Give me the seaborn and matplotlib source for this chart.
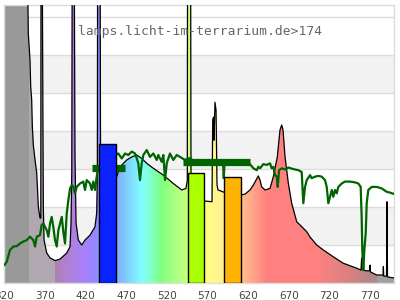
import numpy as np
import matplotlib
matplotlib.use("Agg")
import matplotlib.pyplot as plt
import seaborn as sns
from matplotlib.colors import to_rgb
from matplotlib.patches import Polygon

# ---- data ----
lamp_nm = [320, 347.5, 349.4, 351.5, 352.4, 353.6, 354.4, 355.6, 357.7, 359.8, 361.8, 363.8, 364.8,
           365.1, 366.3, 367.9, 368.8, 372.1, 376.2, 382.3, 388.5, 396.7, 400.8, 402.0, 402.9,
           403.6, 405.7, 406.9, 408.2, 411.0, 415.2, 419.2, 425.4, 431.5, 433.6, 434.4,
           434.8, 437.7, 438.3, 443.8, 450.0, 458.2, 462.3, 470.6, 476.7, 482.9, 489.0, 495.2,
           503.3, 515.6, 527.9, 538.3, 543.5, 545.1, 545.5, 549.1, 549.7, 557.1, 565.7, 575.5,
           576.4, 577.4, 578.0, 579.2, 580.5, 581.7, 582.9, 590.3, 600.2, 610.9, 616.2, 622.3,
           626.4, 629.7, 632.5, 634.6, 636.7, 640.8, 646.9, 651.0, 655.9, 659.2, 661.3, 662.9,
           665.4, 669.5, 673.6, 679.8, 683.8, 687.9, 692.1, 696.2, 704.4, 712.5, 724.8, 737.1,
           753.6, 758.9, 759.7, 760.8, 765.9, 769.4, 770.0, 770.6, 778.3, 786.0, 786.4, 786.9,
           790.3, 790.9, 791.5, 800]
lamp_val = [100, 100, 65.8, 58.7, 51.6, 48.2, 41.1, 36.3, 32.4, 28.9, 20.0, 17.1, 17.1,
            100, 100, 20.1, 11.3, 7.9, 6.6, 5.9, 6.3, 7.9, 9.6, 15.8, 28.9,
            100, 100, 33.2, 15.8, 11.3, 10.0, 11.3, 12.6, 14.8, 18.4, 28.9,
            100, 100, 35.0, 28.4, 27.6, 28.0, 30.6, 32.4, 33.2, 33.7, 32.8, 31.5,
            30.2, 28.4, 26.2, 24.5, 24.9, 27.1, 100, 100, 24.5, 22.9, 21.6, 21.4,
            42.9, 43.7, 37.6, 47.6, 45.5, 25.8, 24.5, 23.9, 23.7, 23.2, 23.4, 24.5,
            25.8, 27.1, 28.2, 27.1, 25.3, 24.5, 24.9, 28.0, 33.2, 40.3, 41.6, 40.3,
            33.2, 26.2, 21.0, 16.1, 15.3, 14.4, 13.5, 12.1, 10.0, 8.7, 6.9, 5.2,
            3.9, 3.4, 6.6, 3.4, 3.2, 3.2, 4.7, 2.9, 2.1, 2.1, 4.3, 1.8,
            1.8, 21.4, 1.6, 1.3]

sun_nm = [320, 322.9, 326.9, 331.0, 335.2, 339.2, 343.3, 347.5, 351.5, 355.6, 357.7, 359.8, 363.8,
          365.9, 367.9, 372.1, 374.1, 376.2, 378.2, 380.2, 382.3, 384.4, 386.4, 388.5, 390.6,
          392.5, 394.6, 396.7, 398.7, 400.8, 402.9, 404.8, 406.9, 409.0, 413.1, 417.1, 419.2,
          421.3, 425.4, 427.5, 429.4, 431.5, 433.6, 435.6, 443.8, 450.0, 460.2, 464.4, 468.5,
          472.5, 476.7, 480.8, 482.9, 484.8, 486.9, 489.0, 491.0, 495.2, 499.2, 503.3, 507.5,
          509.4, 513.6, 515.6, 517.7, 519.8, 523.8, 527.9, 532.1, 536.2, 542.3, 548.5, 554.6,
          560.8, 566.9, 573.1, 579.2, 585.4, 589.1, 590.0, 590.9, 597.7, 610.0, 622.3, 626.4,
          630.6, 632.5, 634.6, 638.7, 642.8, 646.9, 649.0, 651.0, 653.1, 655.2, 656.4, 658.0,
          661.3, 665.4, 669.5, 675.6, 681.8, 683.8, 685.9, 687.1, 687.9, 690.0, 692.1, 696.2,
          698.2, 702.3, 706.4, 710.6, 714.6, 716.7, 718.7, 720.8, 722.9, 724.8, 726.9, 729.0,
          731.0, 735.2, 739.2, 745.4, 751.5, 755.6, 758.5, 759.7, 760.5, 761.7, 763.0, 764.7,
          765.9, 767.9, 772.1, 778.3, 784.4, 790.6, 794.6, 800]
sun_val = [4.7, 5.6, 8.7, 9.6, 9.7, 10.4, 10.9, 11.3, 12.2, 11.3, 9.6, 12.2, 12.6,
           15.3, 15.7, 13.9, 12.2, 15.7, 17.4, 14.8, 11.3, 9.6, 13.9, 15.7, 17.4,
           13.5, 10.4, 18.3, 21.8, 24.9, 25.8, 25.3, 23.6, 25.3, 26.2, 26.7, 24.5,
           27.1, 26.2, 24.5, 26.7, 24.5, 28.0, 30.6, 32.4, 32.9, 34.1, 32.8, 34.1,
           33.7, 34.6, 34.1, 32.8, 31.5, 27.1, 31.5, 33.7, 35.0, 33.2, 34.1, 32.4,
           33.7, 31.9, 33.7, 27.1, 31.5, 34.1, 32.4, 33.7, 33.2, 32.4, 32.9, 31.8,
           32.4, 31.6, 31.8, 32.1, 31.6, 31.6, 27.6, 31.6, 31.6, 31.6, 31.3, 30.2,
           29.7, 30.6, 30.2, 31.3, 31.1, 31.5, 30.2, 30.6, 28.4, 28.0, 25.3, 29.7,
           30.2, 29.9, 30.4, 30.0, 29.7, 29.5, 29.2, 24.5, 21.0, 25.3, 27.1, 28.4,
           27.6, 28.0, 28.2, 28.0, 27.1, 25.3, 21.0, 22.7, 24.5, 22.7, 24.5, 23.6,
           25.3, 26.2, 26.7, 26.7, 26.5, 26.2, 25.3, 17.4, 8.7, 3.4, 8.7, 13.1,
           21.0, 24.5, 25.3, 25.3, 24.9, 24.0, 23.8, 23.4]

avg_start_nm = [427.5, 540.0]
avg_end_nm = [468.5, 622.0]
avg_val = [30.4, 31.9]

bar_left_nm = [436.5, 546.4, 590.3]
bar_right_nm = [457.6, 566.1, 610.9]
bar_val = [36.6, 28.9, 27.9]
bar_colors = ["#0a22ff", "#aaff00", "#ffb300"]

tick_nm = [320, 370, 420, 470, 520, 570, 620, 670, 720, 770]
title_text = "lamps.licht-im-terrarium.de>174"

stop_nm = [320, 351, 351.01, 382, 382.01, 400, 420, 436, 457, 475, 490, 503, 513, 530, 546,
           566, 590, 611, 625, 643, 705, 740, 775, 778.5, 778.51, 800]
stop_hex = ["#999999", "#999999", "#b0a8b0", "#b0a8b0", "#b080b0", "#b080d8", "#a880ff", "#8c8cff",
            "#80a8ff", "#80d8ff", "#80ffff", "#80ffc0", "#80ff80", "#a8ff80", "#c8ff80",
            "#ffff80", "#fff090", "#ffc090", "#ffa888", "#ff8080", "#ff8080", "#e08080",
            "#b08888", "#b08888", "#a0a0a0", "#a0a0a0"]

# ---- plot ----
sns.set_style("white")
plt.rcParams["font.family"] = ["DejaVu Sans"]

fig = plt.figure(figsize=(4, 3), dpi=100)
ax = fig.add_axes([4.4 / 400, 17 / 300, 390 / 400, 278 / 300])
ax.set_xlim(320, 800)
ax.set_ylim(0, 73.2)

for k in [10, 30, 50]:
    ax.axhspan(k, k + 10, color="#f2f2f2", zorder=0, lw=0)
ax.set_yticks([10, 20, 30, 40, 50, 60, 70])
ax.yaxis.grid(True, color="#dcdcdc", lw=1)
ax.xaxis.grid(False)
ax.set_axisbelow(True)
ax.tick_params(axis="y", left=False, labelleft=False)

# wavelength-coloured fill
lam_grid = np.arange(320, 800.25, 0.25)
rgb_stops = np.array([to_rgb(c) for c in stop_hex])
img = np.stack([np.interp(lam_grid, stop_nm, rgb_stops[:, i]) for i in range(3)], axis=-1)[np.newaxis]
im = ax.imshow(img, extent=[320, 800, 0, 100], aspect="auto", origin="lower",
               interpolation="nearest", zorder=1)
verts = [(lamp_nm[0], 0)] + list(zip(lamp_nm, lamp_val)) + [(lamp_nm[-1], 0)]
poly = Polygon(verts, closed=True, facecolor="none", edgecolor="none", transform=ax.transData)
ax.add_patch(poly)
im.set_clip_path(poly)
ax.set_xlim(320, 800)
ax.set_ylim(0, 73.2)

sns.lineplot(x=lamp_nm, y=lamp_val, ax=ax, color="black", lw=0.9, sort=False,
             estimator=None, zorder=3)
sns.lineplot(x=sun_nm, y=sun_val, ax=ax, color="#006400", lw=1.6, sort=False,
             estimator=None, zorder=4)
for s, e, v in zip(avg_start_nm, avg_end_nm, avg_val):
    ax.plot([s, e], [v, v], color="#006400", lw=5.2, solid_capstyle="butt", zorder=4)

ax.bar(bar_left_nm, bar_val, width=np.subtract(bar_right_nm, bar_left_nm), align="edge",
       color=bar_colors, edgecolor="black", linewidth=1, zorder=5)

ax.set_xticks(tick_nm)
ax.set_xticklabels([str(t) for t in tick_nm])
ax.tick_params(axis="x", length=0, pad=5.5, labelsize=7.5, labelcolor="#444444")
for sp in ax.spines.values():
    sp.set_color("#dddddd")
    sp.set_linewidth(1)
ax.set_xlabel("")
ax.set_ylabel("")

fig.text(0.5, 1 - 32 / 300, title_text, ha="center", va="center",
         family="DejaVu Sans Mono", fontsize=9.4, color="#666666", zorder=10)

fig.savefig("out.png", dpi=100)
